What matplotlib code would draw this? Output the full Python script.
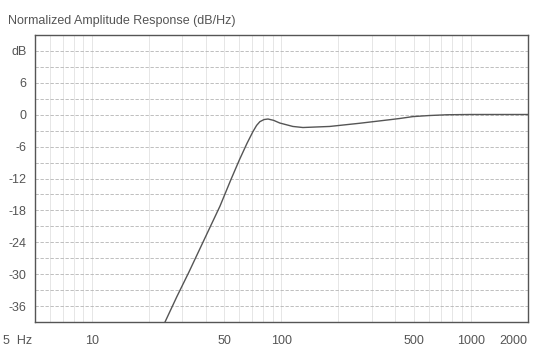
import matplotlib.pyplot as plt
from matplotlib.ticker import FixedLocator, NullFormatter

# values
freq_hz = [24.3, 28, 32.5, 39, 47.4, 54, 60, 65.8, 70.7, 74, 77, 81, 85, 91,
           98, 115, 130, 180, 259, 380, 422, 494, 600, 747, 1000, 2000]
level_db = [-39, -34.3, -29.6, -23.6, -17.2, -12.3, -8.5, -5.4, -3.2, -2.0, -1.3, -0.9, -0.8, -1.05,
            -1.55, -2.2, -2.4, -2.2, -1.6, -0.9, -0.7, -0.35, -0.15, 0, 0.05, 0.05]

x_ticks = [10, 50, 100, 500, 1000, 2000]
x_labels = ["10", "50", "100", "500", "1000", "2000"]
y_ticks = [12, 6, 0, -6, -12, -18, -24, -30, -36]
y_labels = ["dB", "6", "0", "-6", "-12", "-18", "-24", "-30", "-36"]

plt.rcParams['font.family'] = ['Liberation Sans Narrow', 'Liberation Sans', 'DejaVu Sans']
plt.rcParams['axes.unicode_minus'] = False

fig = plt.figure(figsize=(5.38, 3.47), dpi=100)
ax = fig.add_axes([0.065, 0.072, 0.916, 0.827])

ax.set_xscale('log')
ax.set_xlim(5, 2000)
ax.set_ylim(-39, 15)

# grid: light vertical lines at every log step, dashed horizontals every 3 dB
minor_x = [m * 10 ** e for e in range(0, 4) for m in range(1, 10) if 5 < m * 10 ** e < 2000]
for xv in minor_x:
    ax.axvline(xv, color='#e2e2e2', lw=0.6, zorder=0)
for yv in range(-36, 15, 3):
    ax.axhline(yv, color='#b4b4b4', lw=0.6, ls=(0, (4, 2)), zorder=0)

ax.plot(freq_hz, level_db, color='#555555', lw=1.0, zorder=3)

ax.xaxis.set_major_locator(FixedLocator(x_ticks))
ax.xaxis.set_minor_formatter(NullFormatter())
ax.set_xticks(x_ticks)
ax.set_xticklabels(x_labels)
ax.set_yticks(y_ticks)
ax.set_yticklabels(y_labels)
ax.tick_params(axis='both', which='both', length=0, labelsize=9, labelcolor='#555555', pad=6)
ax.tick_params(axis='x', pad=9)
ax.xaxis.get_majorticklabels()[-1].set_horizontalalignment('right')
ax.text(-0.005, -0.044, "5  Hz", transform=ax.transAxes, ha='right', va='top',
        fontsize=9, color='#555555')

for s in ax.spines.values():
    s.set_color('#555555')
    s.set_linewidth(1.0)

fig.text(0.015, 0.94, "Normalized Amplitude Response (dB/Hz)", fontsize=9,
         color='#555555', ha='left', va='center')

fig.savefig("out.png", dpi=100)
